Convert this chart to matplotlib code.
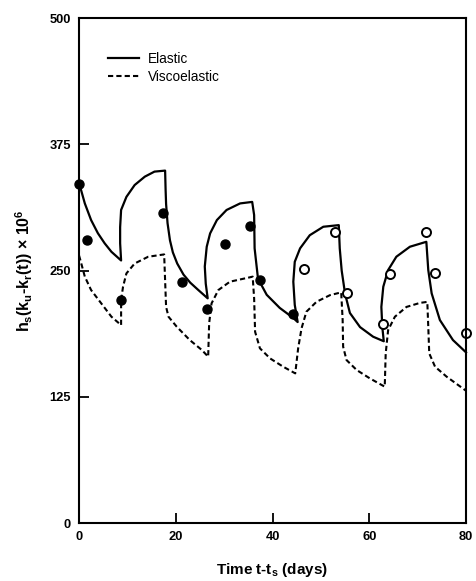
import matplotlib
matplotlib.use("Agg")
import matplotlib.pyplot as plt

# Elastic model response (solid)
elastic_t = [0.0, 1.2, 2.5, 3.9, 5.3, 6.7, 8.7,
             8.5, 8.5, 8.7, 9.8, 11.5, 13.6, 15.6, 17.8,
             17.9, 18.0, 18.3, 18.8, 19.4, 20.3, 21.6, 23.0, 24.6, 26.6,
             26.2, 26.0, 26.4, 27.1, 28.5, 30.5, 33.3, 35.8,
             36.2, 36.3, 37.0, 38.8, 41.5, 44.3, 45.2,
             44.6, 44.3, 44.6, 45.7, 47.7, 50.5, 53.7,
             53.9, 54.3, 55.0, 56.0, 58.1, 60.8, 63.0,
             62.7, 62.5, 62.9, 63.9, 65.6, 68.4, 71.8,
             72.2, 72.9, 74.6, 77.3, 80.0]
elastic_y = [337, 316.5, 300, 287, 277, 268.6, 260,
             277, 293, 310, 323, 334.7, 343, 348, 349,
             330, 316, 297, 280, 268, 257, 246, 238, 231, 222.5,
             237, 254, 273.6, 286.8, 300, 310, 316.5, 318,
             305, 272, 242, 226, 213, 203, 199,
             216, 239, 258.7, 272, 285, 293.4, 295,
             272, 250, 227, 208, 194, 184.5, 180,
             194, 214, 234, 250.5, 263.7, 273.6, 278.5,
             250.5, 227.4, 201, 181.2, 169]

# Viscoelastic model response (dashed)
visco_t = [0.0, 0.3, 1.2, 2.5, 4.6, 6.7, 8.7,
           8.7, 9.1, 9.8, 11.5, 14.3, 17.6,
           17.8, 18.0, 18.5, 20.2, 22.9, 25.4, 26.7,
           26.9, 27.4, 28.8, 31.2, 35.3, 35.9,
           36.2, 36.4, 37.4, 39.5, 42.2, 44.7,
           45.3, 46.0, 47.0, 49.1, 51.9, 54.2,
           54.5, 54.6, 55.3, 57.4, 60.1, 63.2,
           63.4, 63.9, 65.3, 67.7, 70.5, 72.0,
           72.2, 72.4, 73.6, 76.0, 80.0]
visco_y = [265, 260, 244, 230.7, 217.5, 204.3, 196,
           220.8, 234, 247.2, 257, 263.7, 266,
           240, 214, 204.3, 194.4, 181.2, 171.3, 164.7,
           197.7, 217.5, 230.7, 239, 243.3, 244,
           222.5, 189.4, 173, 163, 154.8, 148.2,
           173, 192.8, 209.2, 219.1, 225.7, 228.4,
           201, 174.6, 161.4, 151.5, 143.3, 135,
           168, 191, 204.3, 214, 218, 219,
           194.4, 168, 154.8, 144.9, 131]

# Measured values: early period (filled) and later period (open)
filled_t = [0.1, 1.7, 8.7, 17.3, 21.2, 26.4, 30.1, 35.3, 37.5, 44.3]
filled_y = [336, 280, 221, 306.6, 239, 211.6, 276, 294, 240.6, 206.6]
open_t = [46.5, 53.0, 55.3, 62.8, 64.2, 71.7, 73.6, 80.0]
open_y = [252, 288, 228, 197, 246.5, 288.4, 247.2, 188]

x_ticks = [0, 20, 40, 60, 80]
y_ticks = [0, 125, 250, 375, 500]

plt.rcParams['font.family'] = ['Liberation Sans', 'DejaVu Sans']

fig = plt.figure(figsize=(4.76, 5.81), dpi=100)
ax = fig.add_axes([0.166, 0.0998, 0.813, 0.869])

ax.plot(elastic_t, elastic_y, color='black', lw=1.6, label='Elastic',
        solid_joinstyle='round', clip_on=False)
ax.plot(visco_t, visco_y, color='black', lw=1.5, linestyle=(0, (2.5, 1.5)),
        label='Viscoelastic', clip_on=False)
ax.plot(filled_t, filled_y, 'o', color='black', ms=6.5, clip_on=False)
ax.plot(open_t, open_y, 'o', markerfacecolor='white', markeredgecolor='black',
        mew=1.4, ms=6.5, clip_on=False)

ax.set_xlim(0, 80)
ax.set_ylim(0, 500)
ax.set_xticks(x_ticks)
ax.set_yticks(y_ticks)
ax.tick_params(direction='in', length=7, width=1.3, top=False, right=False,
               labelsize=9.3, pad=6)
for lab in ax.get_xticklabels() + ax.get_yticklabels():
    lab.set_fontweight('bold')
for sp in ax.spines.values():
    sp.set_linewidth(1.5)

ax.set_xlabel('Time t-t$_\\mathregular{s}$ (days)', fontsize=11,
              fontweight='bold', labelpad=13)
ax.set_ylabel('h$_\\mathregular{s}$(k$_\\mathregular{u}$-k$_\\mathregular{r}$(t)) \u00d7 10$^\\mathregular{6}$',
              fontsize=11.5, fontweight='bold', labelpad=10)

ax.legend(loc='upper left', bbox_to_anchor=(0.057, 0.946), frameon=False,
          fontsize=9.8, handlelength=2.3, handletextpad=0.65,
          labelspacing=0.27, borderpad=0)

fig.savefig('out.png', dpi=100)
